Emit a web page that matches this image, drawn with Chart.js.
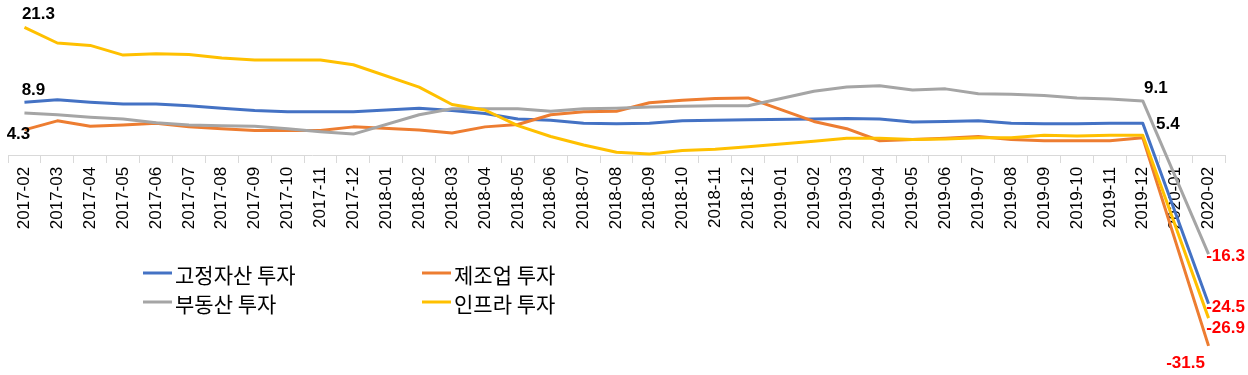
<!DOCTYPE html>
<html><head><meta charset="utf-8">
<style>html,body{margin:0;padding:0;background:#fff;}#wrap{width:1248px;height:375px;}</style>
<script src="https://cdn.jsdelivr.net/npm/chart.js@4.4.1/dist/chart.umd.min.js"></script>
</head><body><div id="wrap"><canvas id="c" width="1248" height="375"></canvas></div>
<script>
const categories = ['2017-02','2017-03','2017-04','2017-05','2017-06','2017-07','2017-08','2017-09','2017-10','2017-11','2017-12','2018-01','2018-02','2018-03','2018-04','2018-05','2018-06','2018-07','2018-08','2018-09','2018-10','2018-11','2018-12','2019-01','2019-02','2019-03','2019-04','2019-05','2019-06','2019-07','2019-08','2019-09','2019-10','2019-11','2019-12','2020-01','2020-02'];
const seriesNames = ['고정자산 투자','제조업 투자','부동산 투자','인프라 투자'];
const fixedAsset = [8.9,9.3,8.9,8.6,8.6,8.3,7.9,7.5,7.3,7.3,7.3,null,7.9,7.5,7.0,6.1,5.9,5.4,5.3,5.4,5.8,5.9,6.0,null,6.1,6.2,6.1,5.6,5.7,5.8,5.4,5.3,5.3,5.4,5.4,null,-24.5];
const manufacturing = [4.3,5.8,4.9,5.1,5.4,4.8,4.5,4.2,4.2,4.2,4.8,null,4.3,3.8,4.8,5.2,6.8,7.3,7.4,8.8,9.2,9.5,9.6,null,5.7,4.5,2.5,2.7,2.9,3.2,2.7,2.5,2.5,2.5,3.0,null,-31.5];
const realEstate = [7.1,6.8,6.4,6.1,5.5,5.1,5.0,4.9,4.5,4.0,3.6,null,6.8,7.8,7.8,7.8,7.4,7.8,7.9,8.1,8.2,8.3,8.3,null,10.7,11.4,11.6,10.9,11.1,10.3,10.2,10.0,9.6,9.4,9.1,null,-16.3];
const infrastructure = [21.3,18.7,18.3,16.7,16.9,16.8,16.2,15.9,15.9,15.9,15.1,null,11.4,8.5,7.6,5.0,3.2,1.8,0.6,0.3,0.9,1.1,1.5,null,2.4,2.9,2.9,2.7,2.8,3.0,3.0,3.4,3.3,3.4,3.4,null,-26.9];
const seriesColors = ['#4472C4','#ED7D31','#A5A5A5','#FFC000'];

// which points carry a value label (dataset index, category index) and where the label sits
const labelPoints = [
  {ds:3, i:0, dx:14, dy:-13},
  {ds:0, i:0, dx:9, dy:-12},
  {ds:1, i:0, dx:-6, dy:4},
  {ds:2, i:34, dx:13, dy:-13},
  {ds:0, i:34, dx:25, dy:1},
  {ds:2, i:36, dx:17, dy:2},
  {ds:0, i:36, dx:17, dy:4},
  {ds:3, i:36, dx:17, dy:10},
  {ds:1, i:36, dx:-23, dy:17}
];

const LATIN = "'Liberation Sans', Arial, sans-serif";
const KOR = "'Noto Sans CJK KR', 'Noto Sans', sans-serif";

const valueLabelPlugin = {
  id: 'valueLabels',
  afterDatasetsDraw(chart) {
    const ctx = chart.ctx;
    ctx.save();
    ctx.font = 'bold 17px ' + LATIN;
    ctx.textAlign = 'center';
    ctx.textBaseline = 'middle';
    labelPoints.forEach(p => {
      const v = chart.data.datasets[p.ds].data[p.i];
      const el = chart.getDatasetMeta(p.ds).data[p.i];
      ctx.fillStyle = v < 0 ? '#FF0000' : '#000000';
      ctx.fillText(v.toFixed(1), el.x + p.dx, el.y + p.dy);
    });
    ctx.restore();
  }
};

const gridLegendPlugin = {
  id: 'gridLegend',
  afterDraw(chart) {
    const ctx = chart.ctx;
    const cols = [143, 422], rows = [273, 302];
    ctx.save();
    chart.data.datasets.forEach((ds, k) => {
      const x = cols[k % 2], y = rows[Math.floor(k / 2)];
      ctx.strokeStyle = ds.borderColor;
      ctx.lineWidth = 3;
      ctx.beginPath(); ctx.moveTo(x, y); ctx.lineTo(x + 29, y); ctx.stroke();
      ctx.fillStyle = '#000';
      ctx.font = '21px ' + KOR;
      ctx.textAlign = 'left';
      ctx.textBaseline = 'middle';
      ctx.fillText(ds.label, x + 32, y + 2);
    });
    ctx.restore();
  }
};

const seriesData = [fixedAsset, manufacturing, realEstate, infrastructure];
const datasets = seriesData.map((d, k) => ({
  label: seriesNames[k],
  data: d,
  borderColor: seriesColors[k],
  backgroundColor: seriesColors[k],
  borderWidth: 3,
  pointRadius: 0,
  tension: 0,
  spanGaps: true,
  fill: false,
  borderJoinStyle: 'round',
  order: 4 - k
}));

new Chart(document.getElementById('c'), {
  type: 'line',
  data: { labels: categories, datasets },
  options: {
    responsive: false,
    animation: false,
    layout: { padding: { left: 8, right: 23, top: 5, bottom: 8 } },
    plugins: { legend: { display: false }, tooltip: { enabled: false } },
    scales: {
      x: {
        type: 'category',
        offset: true,
        position: { y: 0 },
        grid: { display: true, drawOnChartArea: false, drawTicks: true, tickLength: 7, color: '#D9D9D9', offset: true },
        border: { display: true, color: '#D9D9D9', width: 1 },
        ticks: { autoSkip: false, maxRotation: 90, minRotation: 90, padding: 4, color: '#000', font: { family: LATIN, size: 17 } },
        afterFit(s) { s.height = 0; }
      },
      y: { display: false, min: -35, max: 25 }
    }
  },
  plugins: [valueLabelPlugin, gridLegendPlugin]
});
</script>
</body></html>
